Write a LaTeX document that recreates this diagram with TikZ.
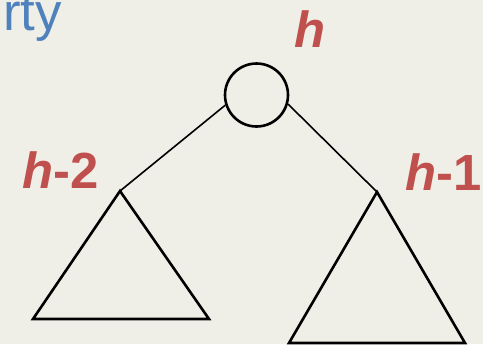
\documentclass[tikz,border=0pt]{standalone}
\usepackage{fontspec}
\newfontfamily\slidefont{Liberation Sans}
\usepackage{xcolor}
\usetikzlibrary{positioning, calc}
\definecolor{slidebg}{RGB}{240,239,231}
\definecolor{heightred}{RGB}{192,80,77}
\definecolor{titleblue}{RGB}{79,129,189}

\begin{document}
\begin{tikzpicture}[x=1bp, y=-1bp,
  heightlabel/.style={inner sep=0pt, anchor=base west, text=heightred,
    font=\slidefont\fontsize{51}{51}\selectfont\bfseries},
  subtree/.style={line width=2.6bp, line join=miter},
  edge/.style={line width=1.6bp}]

  % Background and page size
  \fill[slidebg] (0,0) rectangle (483,344);
  \useasboundingbox (0,0) rectangle (483,344);

  % Title (cut off at the left edge)
  \node[inner sep=0pt, anchor=base east, text=titleblue,
        font=\slidefont\fontsize{53}{53}\selectfont] (title) at (62,30) {Property};

  % Root and subtree tops
  \node[circle, draw, line width=2.6bp, minimum size=63bp, inner sep=0pt] (root) at (256.5,95) {};
  \coordinate (ltop) at (120,191);
  \coordinate (rtop) at (377,192);

  % Subtrees
  \draw[subtree] (ltop) -- (33,319) -- (209,319) -- cycle;
  \draw[subtree] (rtop) -- (289,343) -- (465,343) -- cycle;

  % Edges
  \draw[edge] (root.198) -- (ltop);
  \draw[edge] (root.344) -- (rtop);

  % Heights
  \node[heightlabel] (hroot) at (294,47) {\itshape h};
  \node[heightlabel] (hleft) at (22,188) {\itshape h\upshape -2};
  \node[heightlabel] (hright) at (405,190) {\itshape h\upshape -1};
\end{tikzpicture}
\end{document}
